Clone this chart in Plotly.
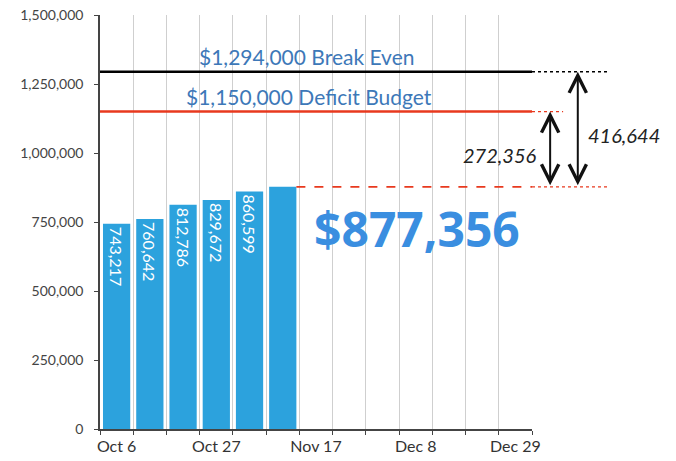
import plotly.graph_objects as go

weeks = ["Oct 6", "Oct 13", "Oct 20", "Oct 27", "Nov 3", "Nov 10", "Nov 17",
         "Nov 24", "Dec 1", "Dec 8", "Dec 15", "Dec 22", "Dec 29"]
shown_ticks = ["Oct 6", "Oct 27", "Nov 17", "Dec 8", "Dec 29"]
revenue = [743217, 760642, 812786, 829672, 860599, 877356]
bar_labels = ["743,217", "760,642", "812,786", "829,672", "860,599", ""]
break_even = 1294000
deficit_budget = 1150000
current = revenue[-1]
# gap labels exactly as printed on the chart
gap_budget_label = "272,356"
gap_break_label = "416,644"

y_ticks = [0, 250000, 500000, 750000, 1000000, 1250000, 1500000]

BAR = "#2ca2dd"
TXT = "#3d78b8"
FONT = "Lato"
bargap = 0.18

fig = go.Figure()
fig.add_trace(go.Bar(
    x=weeks[:len(revenue)], y=revenue, text=bar_labels,
    textposition="inside", insidetextanchor="end", textangle=90,
    textfont=dict(family=FONT, size=16, color="white"),
    marker=dict(color=BAR, line=dict(width=0)),
    hoverinfo="skip",
))
# keep all categories on the axis
fig.add_trace(go.Scatter(x=weeks, y=[None] * len(weeks), mode="markers",
                         showlegend=False, hoverinfo="skip"))

ext = 1.176
ext_short = 1.072
shapes = []
# break-even line
shapes.append(dict(type="line", xref="paper", yref="y", x0=0, x1=1,
                   y0=break_even, y1=break_even, line=dict(color="black", width=2.5)))
shapes.append(dict(type="line", xref="paper", yref="y", x0=1, x1=ext,
                   y0=break_even, y1=break_even, line=dict(color="black", width=1.5, dash="dot")))
# deficit budget line
shapes.append(dict(type="line", xref="paper", yref="y", x0=0, x1=1,
                   y0=deficit_budget, y1=deficit_budget, line=dict(color="#e8391e", width=2.5)))
shapes.append(dict(type="line", xref="paper", yref="y", x0=1, x1=ext_short,
                   y0=deficit_budget, y1=deficit_budget, line=dict(color="#e8391e", width=1.2, dash="dot")))
# current level line
last_idx = len(revenue) - 1
shapes.append(dict(type="line", xref="x", yref="y", x0=last_idx + (1 - bargap) / 2, x1=len(weeks) - 0.5,
                   y0=current, y1=current, line=dict(color="#e8391e", width=1.8, dash="dash")))
shapes.append(dict(type="line", xref="paper", yref="y", x0=1, x1=ext,
                   y0=current, y1=current, line=dict(color="#e8391e", width=1.2, dash="dot")))

annotations = [
    dict(x=0.479, xref="paper", xanchor="center", y=break_even, yref="y", yshift=15, showarrow=False,
         text=f"${break_even:,} Break Even", font=dict(family=FONT, size=21, color=TXT)),
    dict(x=0.483, xref="paper", xanchor="center", y=deficit_budget, yref="y", yshift=15, showarrow=False,
         text=f"${deficit_budget:,} Deficit Budget", font=dict(family=FONT, size=21, color=TXT)),
    dict(x=0.734, xref="paper", xanchor="center", y=current, yref="y", yshift=-42, showarrow=False,
         text=f"${current:,}", font=dict(family="Open Sans", size=48, color="#3a8ee0", weight="bold")),
    # arrows
    dict(x=1.042, xref="paper", y=deficit_budget, yref="y", ax=0, axref="pixel", ay=current, ayref="y",
         showarrow=True, arrowside="end+start", arrowhead=5, startarrowhead=5, arrowsize=1.7,
         startarrowsize=1.7, arrowwidth=2, arrowcolor="#111", text=""),
    dict(x=1.106, xref="paper", y=break_even, yref="y", ax=0, axref="pixel", ay=current, ayref="y",
         showarrow=True, arrowside="end+start", arrowhead=5, startarrowhead=5, arrowsize=1.7,
         startarrowsize=1.7, arrowwidth=2, arrowcolor="#111", text=""),
    dict(x=1.0, xref="paper", y=(deficit_budget + current) / 2 - 20000, yref="y", xanchor="right",
         xshift=6, showarrow=False, text=f"<i>{gap_budget_label}</i>",
         font=dict(family=FONT, size=20, color="#222")),
    dict(x=1.125, xref="paper", y=(break_even + current) / 2 - 20000, yref="y", xanchor="left",
         showarrow=False, text=f"<i>{gap_break_label}</i>", font=dict(family=FONT, size=20, color="#222")),
]

fig.update_layout(
    width=676, height=461,
    margin=dict(l=92, r=152, t=7, b=40),
    paper_bgcolor="white", plot_bgcolor="white",
    showlegend=False, bargap=bargap,
    shapes=shapes, annotations=annotations,
    font=dict(family=FONT, color="#333"),
)
fig.update_xaxes(
    type="category", categoryorder="array", categoryarray=weeks,
    range=[-0.5, len(weeks) - 0.5], automargin=False, tickangle=0,
    tickvals=weeks, ticktext=[w if w in shown_ticks else "" for w in weeks],
    tickson="boundaries", ticks="outside", ticklen=4, tickcolor="#444",
    ticklabelstandoff=2, ticklabeloverflow="allow",
    showgrid=True, gridcolor="#cfcfcf", gridwidth=1,
    showline=True, linecolor="#444", linewidth=1.5,
    tickfont=dict(family=FONT, size=16, color="#333"),
)
fig.update_yaxes(
    range=[0, 1500000], tickvals=y_ticks, ticktext=[f"{v:,}" for v in y_ticks],
    automargin=False, ticks="outside", ticklen=4, tickcolor="#444",
    ticklabelstandoff=8, ticklabeloverflow="allow",
    showgrid=False, zeroline=False, showline=True, linecolor="#444", linewidth=1.5,
    tickfont=dict(family=FONT, size=14, color="#444"),
)
fig.write_html("out.html")
